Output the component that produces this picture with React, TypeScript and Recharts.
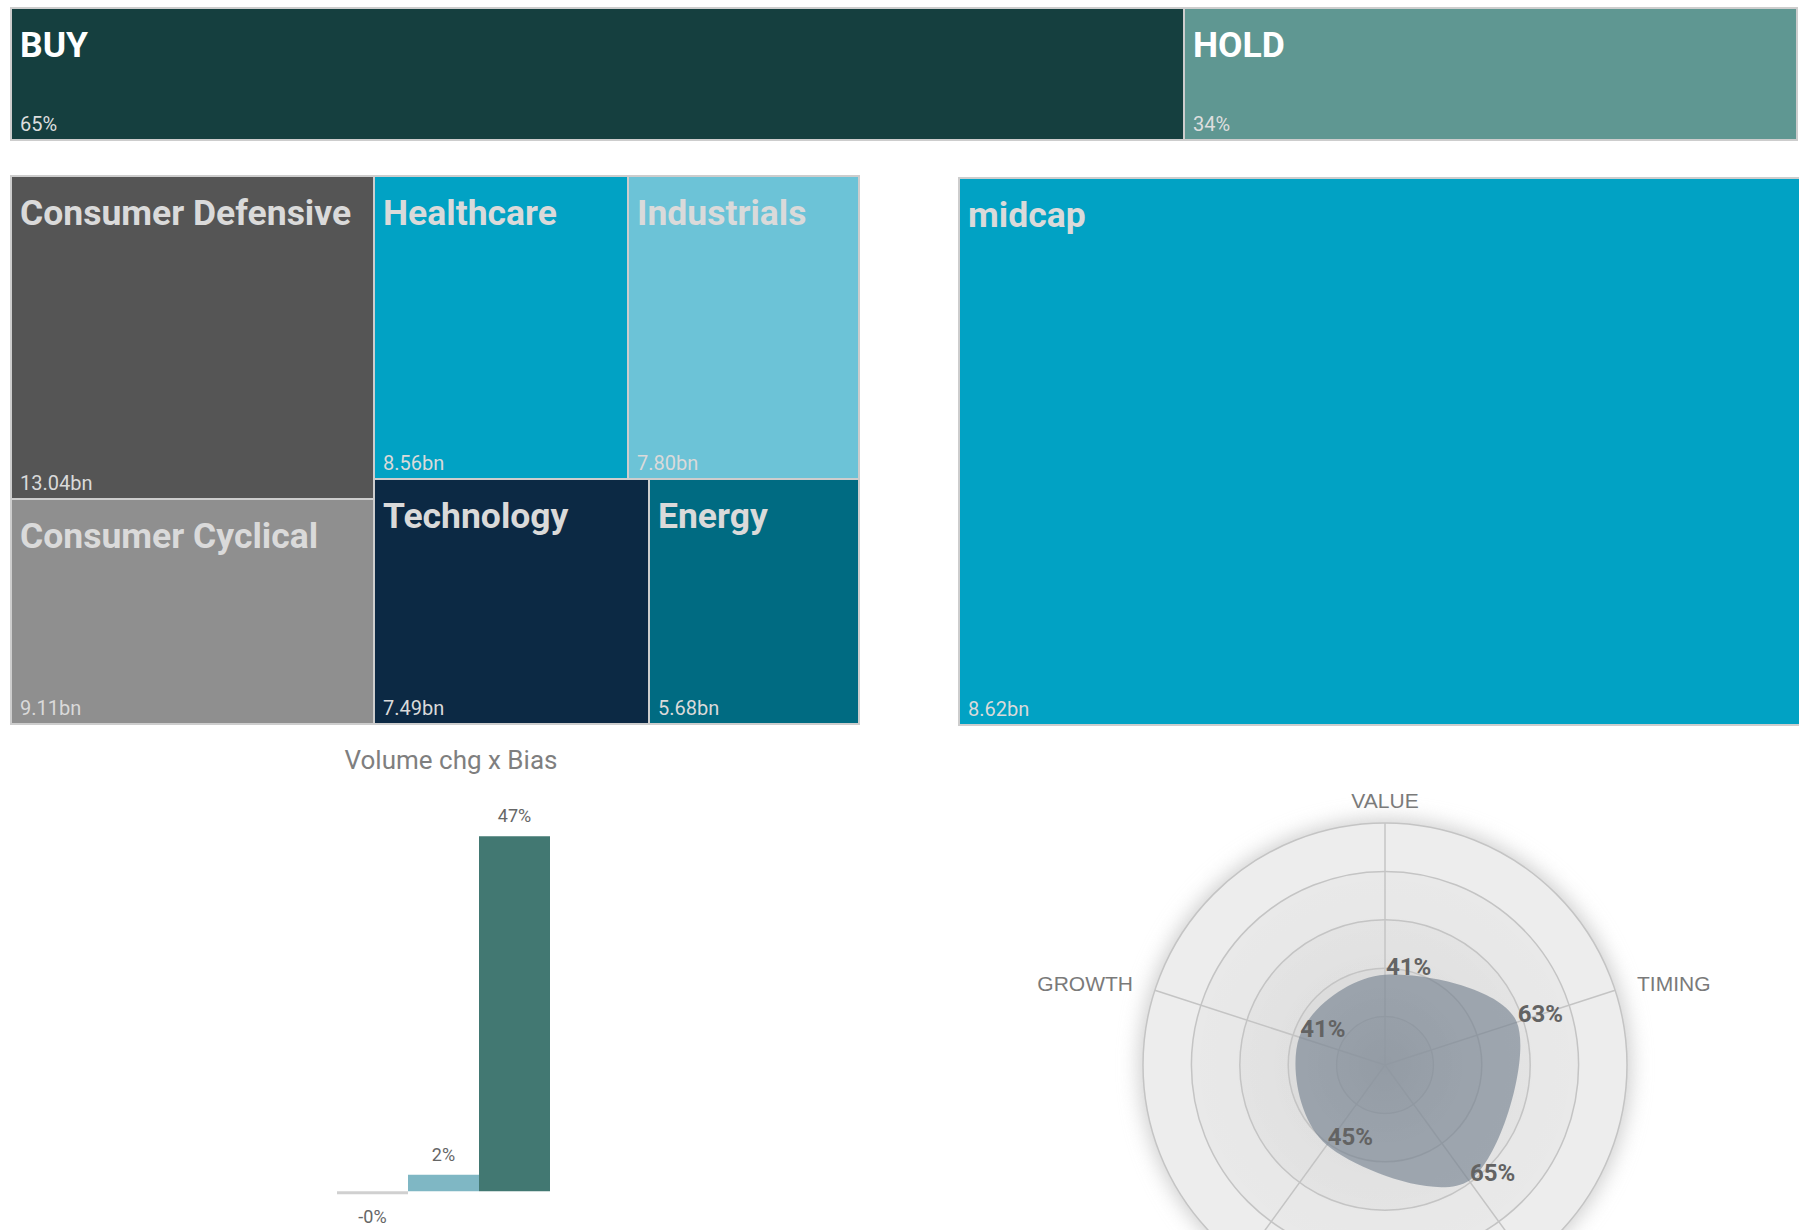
import React from 'react'
import {
  Treemap,
  BarChart,
  Bar,
  XAxis,
  YAxis,
  Cell,
  LabelList,
  RadarChart,
  Radar,
  PolarGrid,
  PolarAngleAxis,
  PolarRadiusAxis,
} from 'recharts'

// analyst bias split (%)
const biasNames = ['BUY', 'HOLD']
const biasShares = [65, 34]
const biasColors = ['#153f3f', '#5f9792']

// market cap by sector (bn)
const sectorNames = ['Consumer Defensive', 'Consumer Cyclical', 'Healthcare', 'Industrials', 'Technology', 'Energy']
const sectorCaps = [13.04, 9.11, 8.56, 7.8, 7.49, 5.68]
const sectorColors = ['#555555', '#8f8f8f', '#01a2c4', '#6cc3d7', '#0c2944', '#006b82']

// market cap by size class (bn)
const sizeNames = ['midcap']
const sizeCaps = [8.62]
const sizeColors = ['#01a2c4']

// volume change by bias (%)
const volumeBias = ['SELL', 'HOLD', 'BUY']
const volumeChg = [-0.4, 2.2, 47]
const volumeColors = ['#d0d0d0', '#7fb7c4', '#427872']

// factor scores (%)
const factorNames = ['VALUE', 'TIMING', 'QUALITY', 'MOMENTUM', 'GROWTH']
const factorScores = [41, 63, 65, 45, 41]

const FONT = 'Roboto, "Noto Sans", sans-serif'
const BORDER = '#cdcdcd'

const PAGE_H = 1230
const RADAR_TOP = 760
const RADAR_W = 800
const RADAR_H = 620
const RADAR_CX = 400
const RADAR_CY = 305
const RADAR_R = 242

const biasTiles = biasNames.map((name, i) => ({
  name,
  size: biasShares[i],
  tile: name,
  color: biasColors[i],
  label: `${biasShares[i]}%`,
  nameColor: '#ffffff',
  valueColor: '#dedede',
}))

const sectorTiles = sectorNames.map((name, i) => ({
  name,
  size: sectorCaps[i],
  tile: name,
  color: sectorColors[i],
  label: `${sectorCaps[i].toFixed(2)}bn`,
  nameColor: '#dadada',
  valueColor: '#dadada',
}))

const sizeTiles = sizeNames.map((name, i) => ({
  name,
  size: sizeCaps[i],
  tile: name,
  color: sizeColors[i],
  label: `${sizeCaps[i].toFixed(2)}bn`,
  nameColor: '#dadada',
  valueColor: '#dadada',
}))

const volumeData = volumeBias.map((bias, i) => ({ bias, chg: volumeChg[i] }))
const factorData = factorNames.map((factor, i) => ({ factor, score: factorScores[i] }))

function Tile(props: any) {
  const { x, y, width, height, tile, color, label, nameColor, valueColor } = props
  if (!tile) return null
  return (
    <g>
      <rect x={x} y={y} width={width} height={height} fill={color} stroke={BORDER} strokeWidth={2} />
      <text x={x + 9} y={y + 49} fill={nameColor} fontSize={35.5} fontWeight={700} fontFamily={FONT}>
        {tile}
      </text>
      <text x={x + 9} y={y + height - 9} fill={valueColor} fontSize={20} fontFamily={FONT}>
        {label}
      </text>
    </g>
  )
}

function VolumeLabel(props: any) {
  const vb = props.viewBox || props
  const x = vb.x ?? props.x
  const y = vb.y ?? props.y
  const w = vb.width ?? props.width
  const h = vb.height ?? props.height
  const v = Number(props.value)
  const top = Math.min(y, y + h)
  const bottom = Math.max(y, y + h)
  return (
    <text
      x={x + w / 2}
      y={v < 0 ? bottom + 29 : top - 14}
      textAnchor="middle"
      fill="#666666"
      fontSize={18}
      fontFamily={FONT}
    >
      {`${v.toFixed(0)}%`}
    </text>
  )
}

function FactorTick(props: any) {
  const { x, y, payload, textAnchor } = props
  // the lower two axis names fall below the bottom of the page
  if (y + RADAR_TOP > PAGE_H - 10) return <g />
  return (
    <text
      x={x}
      y={y}
      textAnchor={textAnchor}
      dominantBaseline="central"
      fill="#7a7a7a"
      fontSize={21}
      fontFamily='"Liberation Sans", Arial, sans-serif'
    >
      {payload.value}
    </text>
  )
}

function RadarBlob(props: any) {
  const pts = props.points || []
  if (!pts.length) return null
  const n = pts.length
  let d = `M${pts[0].x},${pts[0].y}`
  for (let i = 0; i < n; i++) {
    const p0 = pts[(i - 1 + n) % n]
    const p1 = pts[i]
    const p2 = pts[(i + 1) % n]
    const p3 = pts[(i + 2) % n]
    const c1x = p1.x + (p2.x - p0.x) / 6
    const c1y = p1.y + (p2.y - p0.y) / 6
    const c2x = p2.x - (p3.x - p1.x) / 6
    const c2y = p2.y - (p3.y - p1.y) / 6
    d += ` C${c1x},${c1y} ${c2x},${c2y} ${p2.x},${p2.y}`
  }
  d += ' Z'
  return (
    <g>
      <path d={d} fill="rgb(112,125,140)" fillOpacity={0.6} stroke="none" />
      {pts.map((p: any, i: number) => (
        <text
          key={i}
          x={p.x + 1}
          y={p.y}
          fill="#636363"
          fontSize={24}
          fontWeight={700}
          fontFamily={FONT}
        >
          {`${p.value ?? factorScores[i]}%`}
        </text>
      ))}
    </g>
  )
}

export default function App() {
  const rings = [0.2, 0.4, 0.6, 0.8, 1].map(f => f * RADAR_R)
  return (
    <div
      style={{
        position: 'fixed',
        left: 0,
        top: 0,
        width: 1799,
        height: PAGE_H,
        overflow: 'hidden',
        background: '#ffffff',
        fontFamily: FONT,
      }}
    >
      <style>{'.recharts-surface{overflow:visible}'}</style>

      <div style={{ position: 'absolute', left: 11, top: 8 }}>
        <Treemap width={1786} height={132} data={biasTiles} dataKey="size" isAnimationActive={false} content={Tile} />
      </div>

      <div style={{ position: 'absolute', left: 11, top: 176 }}>
        <Treemap width={848} height={548} data={sectorTiles} dataKey="size" isAnimationActive={false} content={Tile} />
      </div>

      <div style={{ position: 'absolute', left: 959, top: 178 }}>
        <Treemap width={860} height={547} data={sizeTiles} dataKey="size" isAnimationActive={false} content={Tile} />
      </div>

      <div
        style={{
          position: 'absolute',
          left: 251,
          top: 747,
          width: 400,
          textAlign: 'center',
          fontSize: 26,
          lineHeight: '26px',
          color: '#7f7f7f',
        }}
      >
        Volume chg x Bias
      </div>

      <div style={{ position: 'absolute', left: 337, top: 791 }}>
        <BarChart
          width={213}
          height={438}
          data={volumeData}
          margin={{ top: 0, right: 0, bottom: 0, left: 0 }}
          barCategoryGap={0}
        >
          <XAxis dataKey="bias" hide />
          <YAxis hide domain={[-5, 53]} allowDataOverflow />
          <Bar dataKey="chg" isAnimationActive={false}>
            {volumeData.map((d, i) => (
              <Cell key={d.bias} fill={volumeColors[i]} />
            ))}
            <LabelList dataKey="chg" content={VolumeLabel} />
          </Bar>
        </BarChart>
      </div>

      <svg
        width={RADAR_W}
        height={RADAR_H}
        style={{ position: 'absolute', left: 985, top: RADAR_TOP }}
      >
        <defs>
          <filter id="radarGlow" x="-30%" y="-30%" width="160%" height="160%">
            <feGaussianBlur stdDeviation="10" />
          </filter>
          <radialGradient id="radarBand">
            <stop offset="0" stopColor="#000" stopOpacity={0.04} />
            <stop offset="1" stopColor="#000" stopOpacity={0.018} />
          </radialGradient>
        </defs>
        <circle cx={RADAR_CX} cy={RADAR_CY} r={RADAR_R + 4} fill="#cfcfcf" filter="url(#radarGlow)" />
        <circle cx={RADAR_CX} cy={RADAR_CY} r={RADAR_R} fill="#ededed" />
        {rings.slice(0, 4).reverse().map(r => (
          <circle key={r} cx={RADAR_CX} cy={RADAR_CY} r={r} fill="url(#radarBand)" />
        ))}
      </svg>

      <div style={{ position: 'absolute', left: 985, top: RADAR_TOP }}>
        <RadarChart
          width={RADAR_W}
          height={RADAR_H}
          data={factorData}
          cx={RADAR_CX}
          cy={RADAR_CY}
          outerRadius={RADAR_R}
          margin={{ top: 0, right: 0, bottom: 0, left: 0 }}
        >
          <PolarGrid gridType="circle" polarRadius={rings} stroke="#c4c4c4" strokeWidth={1.5} />
          <PolarAngleAxis
            dataKey="factor"
            tick={FactorTick}
            tickSize={23}
            tickLine={false}
            axisLine={false}
          />
          <PolarRadiusAxis domain={[0, 110]} tick={false} axisLine={false} tickLine={false} />
          <Radar dataKey="score" isAnimationActive={false} shape={RadarBlob} />
        </RadarChart>
      </div>
    </div>
  )
}
